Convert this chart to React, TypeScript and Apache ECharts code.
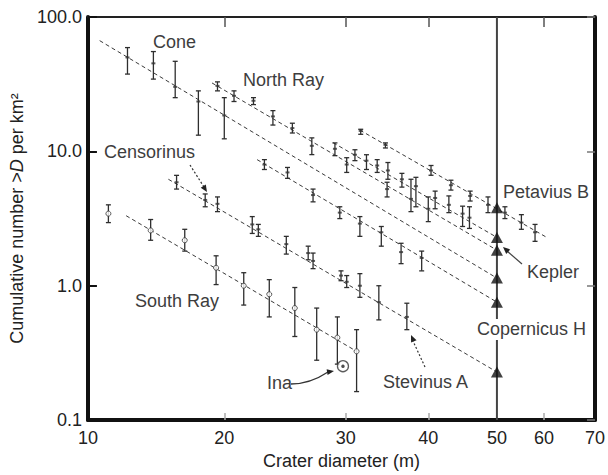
import React, { useEffect, useRef } from 'react';
import * as echarts from 'echarts';

// x axis of the original figure: tick labels and where each sits along the axis (0..1)
const xTickLabels = [10, 20, 30, 40, 50, 60, 70];
const xTickPositions = [0, 0.2689, 0.5087, 0.6712, 0.8066, 0.8994, 1];
const xInnerTickLabels = [20, 30, 40, 60];

// [diameter m, cumulative number, lower error, upper error]
const conePoints = [
  [12.9, 50.0, 37.6, 59.2],
  [14.8, 45.2, 34.5, 55.3],
  [16.4, 30.2, 25.1, 46.8],
  [18.1, 23.5, 13.2, 28.2],
  [20.0, 18.5, 12.4, 25.1],
];
const northRayPoints = [
  [19.5, 30.7, 28.2, 32.9],
  [20.8, 25.9, 23.5, 28.2],
  [22.4, 23.8, 22.3, 25.1],
  [24.0, 18.2, 15.7, 20.1],
  [25.6, 14.9, 13.7, 16.2],
  [27.2, 11.0, 9.46, 12.6],
  [30.1, 7.98, 6.97, 8.97],
  [35.0, 5.24, 4.58, 5.89],
  [37.9, 4.43, 3.56, 6.2],
  [40.0, 3.74, 3.0, 4.58],
];
const keplerPoints = [
  [29.1, 10.45, 9.29, 11.56],
  [31.1, 9.44, 8.53, 10.28],
  [32.5, 8.53, 7.33, 9.44],
  [33.8, 7.85, 6.97, 8.68],
  [35.1, 7.21, 6.2, 8.26],
  [36.8, 6.2, 5.42, 6.86],
  [38.5, 5.51, 3.87, 6.41],
  [41.0, 4.5, 3.74, 5.06],
  [43.0, 4.0, 3.5, 4.66],
  [45.0, 3.44, 2.76, 3.91],
  [46.0, 3.21, 2.67, 3.87],
];
const petaviusPoints = [
  [31.8, 14.2, 13.4, 14.6],
  [34.8, 11.2, 10.6, 11.56],
  [40.4, 7.21, 6.64, 7.85],
  [43.3, 5.6, 5.15, 6.1],
  [46.1, 4.66, 4.27, 5.06],
  [48.7, 4.0, 3.5, 4.58],
  [51.7, 3.5, 3.16, 3.87],
  [55.2, 2.95, 2.63, 3.38],
  [58.1, 2.5, 2.14, 2.86],
];
const copernicusPoints = [
  [23.3, 7.98, 7.33, 8.68],
  [25.2, 6.97, 6.3, 7.59],
  [27.3, 4.73, 4.21, 5.24],
  [29.5, 3.5, 3.16, 3.87],
  [31.7, 2.9, 2.33, 3.27],
  [34.3, 2.5, 1.97, 2.76],
  [36.7, 1.78, 1.46, 2.07],
  [39.2, 1.61, 1.29, 1.81],
];
const censorinusPoints = [
  [16.5, 5.89, 5.24, 6.63],
  [18.6, 4.35, 3.87, 4.82],
  [19.5, 4.07, 3.56, 4.58],
  [22.3, 2.86, 2.45, 3.27],
  [22.8, 2.63, 2.33, 2.86],
  [25.1, 2.04, 1.72, 2.33],
  [26.9, 1.75, 1.56, 1.97],
  [27.3, 1.53, 1.34, 1.75],
];
const stevinusPoints = [
  [29.6, 1.19, 1.09, 1.29],
  [30.1, 1.07, 0.97, 1.19],
  [31.7, 1.0, 0.82, 1.23],
  [34.0, 0.755, 0.557, 1.0],
  [37.4, 0.586, 0.471, 0.741],
];
const southRayPoints = [
  [11.5, 3.44, 2.95, 4.0],
  [14.6, 2.58, 2.18, 3.11],
  [17.1, 2.18, 1.81, 2.63],
  [19.4, 1.36, 1.02, 1.67],
  [21.6, 1.0, 0.718, 1.25],
  [23.7, 0.864, 0.586, 1.11],
  [25.8, 0.682, 0.419, 0.97],
  [27.6, 0.471, 0.279, 0.682],
  [29.3, 0.411, 0.261, 0.586],
  [31.3, 0.325, 0.163, 0.471],
];
const inaPoint = [29.76, 0.252];

// fitted power-law lines: [diameter, value] end points
const coneFit = [[10.86, 66.7], [50, 1.14]];
const northRayFit = [[19.1, 32.3], [50, 1.84]];
const keplerFit = [[28.95, 11.6], [50, 2.29]];
const petaviusFit = [[31.7, 14.4], [60.8, 2.26]];
const copernicusFit = [[22.7, 8.68], [50, 0.755]];
const censorinusFit = [[15.9, 6.2], [50, 0.228]];
const southRayFit = [[12.8, 3.32], [31.3, 0.325]];

// extrapolated values at D = 50 m
const refDiameter = 50;
const triangleValues = [3.8, 2.29, 1.84, 1.14, 0.755, 0.228];

const FONT = '"Liberation Sans", Arial, Helvetica, sans-serif';

function toAxis(d: number): number {
  const n = xTickLabels.length;
  for (let i = 0; i < n - 1; i++) {
    const a = xTickLabels[i], b = xTickLabels[i + 1];
    if (d <= b || i === n - 2) {
      const t = (d - a) / (b - a);
      return xTickPositions[i] + t * (xTickPositions[i + 1] - xTickPositions[i]);
    }
  }
  return 1;
}

function fitSeries(fit: number[][]) {
  return {
    type: 'line',
    data: fit.map((p) => [toAxis(p[0]), p[1]]),
    symbol: 'none',
    lineStyle: { color: '#3a3a3a', width: 1, type: [4, 3] },
    z: 2,
    silent: true,
  };
}

function errSeries(pts: number[][]) {
  return {
    type: 'custom',
    data: pts.map((p) => [toAxis(p[0]), p[2], p[3]]),
    encode: { x: 0, y: [1, 2] },
    z: 3,
    silent: true,
    renderItem: (params: any, api: any) => {
      const x = api.value(0);
      const lo = api.value(1);
      const hi = api.value(2);
      const a = api.coord([x, hi]);
      const b = api.coord([x, lo]);
      const w = 2.5;
      const style = { stroke: '#2e2e2e', lineWidth: 1.3 };
      return {
        type: 'group',
        children: [
          { type: 'line', shape: { x1: a[0], y1: a[1], x2: b[0], y2: b[1] }, style },
          { type: 'line', shape: { x1: a[0] - w, y1: a[1], x2: a[0] + w, y2: a[1] }, style },
          { type: 'line', shape: { x1: b[0] - w, y1: b[1], x2: b[0] + w, y2: b[1] }, style },
        ],
      };
    },
  };
}

function pointSeries(pts: number[][], symbol: string, size: any, filled: boolean) {
  return {
    type: 'scatter',
    data: pts.map((p) => [toAxis(p[0]), p[1]]),
    symbol,
    symbolSize: size,
    itemStyle: filled
      ? { color: '#333' }
      : { color: '#fff', borderColor: '#333', borderWidth: 1 },
    z: 4,
    silent: true,
  };
}

function labelText(text: string, x: number, y: number) {
  return {
    type: 'text',
    x,
    y,
    silent: true,
    z: 20,
    style: { text, font: `18px ${FONT}`, fill: '#3d3d3d', verticalAlign: 'middle' },
  };
}

function arrowHead(tip: number[], from: number[], len = 7, half = 3) {
  const dx = tip[0] - from[0];
  const dy = tip[1] - from[1];
  const L = Math.sqrt(dx * dx + dy * dy);
  const ux = dx / L, uy = dy / L;
  const bx = tip[0] - ux * len, by = tip[1] - uy * len;
  const px = -uy * half, py = ux * half;
  return {
    type: 'polygon',
    silent: true,
    z: 20,
    shape: { points: [tip, [bx + px, by + py], [bx - px, by - py]] },
    style: { fill: '#222' },
  };
}

export default function App() {
  const ref = useRef<HTMLDivElement>(null);
  useEffect(() => {
    if (!ref.current) return;
    const chart = echarts.init(ref.current, undefined, { renderer: 'svg' });
    const innerTicks = xInnerTickLabels.map((v) => toAxis(v));
    const option: any = {
      animation: false,
      backgroundColor: '#fff',
      grid: { left: 78, right: 13, top: 17, bottom: 48 },
      xAxis: [
        {
          type: 'value',
          min: 0,
          max: 1,
          position: 'bottom',
          name: 'Crater diameter (m)',
          nameLocation: 'middle',
          nameGap: 29,
          nameTextStyle: { fontSize: 18, fontFamily: FONT, color: '#222' },
          axisLine: { show: true, onZero: false, lineStyle: { color: '#111', width: 4 } },
          axisTick: {
            show: true,
            inside: true,
            length: 7,
            customValues: innerTicks,
            lineStyle: { color: '#aaa', width: 1.5 },
          },
          axisLabel: {
            customValues: xTickPositions,
            formatter: (v: number) => {
              const i = xTickPositions.findIndex((p) => Math.abs(p - v) < 1e-6);
              return i >= 0 ? String(xTickLabels[i]) : '';
            },
            fontSize: 18,
            fontFamily: FONT,
            color: '#222',
            margin: 9,
          },
          splitLine: { show: false },
        },
        {
          type: 'value',
          min: 0,
          max: 1,
          position: 'top',
          axisLine: { show: true, onZero: false, lineStyle: { color: '#222', width: 2 } },
          axisTick: {
            show: true,
            inside: true,
            length: 10,
            customValues: innerTicks,
            lineStyle: { color: '#555', width: 1.5 },
          },
          axisLabel: { show: false },
          splitLine: { show: false },
        },
      ],
      yAxis: [
        {
          type: 'log',
          logBase: 10,
          min: 0.1,
          max: 100,
          position: 'left',
          name: 'Cumulative number >{i|D} per km²',
          nameLocation: 'middle',
          nameGap: 47,
          nameTextStyle: {
            fontSize: 18,
            fontFamily: FONT,
            color: '#222',
            rich: { i: { fontStyle: 'italic', fontSize: 18, fontFamily: FONT, color: '#222' } },
          },
          axisLine: { show: true, onZero: false, lineStyle: { color: '#111', width: 4 } },
          axisTick: { show: true, inside: true, length: 9, lineStyle: { color: '#111', width: 2 } },
          axisLabel: {
            formatter: (v: number) => Number(v).toFixed(1),
            fontSize: 18,
            fontFamily: FONT,
            color: '#222',
            margin: 6,
          },
          splitLine: { show: false },
          minorTick: { show: false },
        },
        {
          type: 'log',
          logBase: 10,
          min: 0.1,
          max: 100,
          position: 'right',
          axisLine: { show: true, onZero: false, lineStyle: { color: '#111', width: 4 } },
          axisTick: { show: true, inside: true, length: 8, lineStyle: { color: '#777', width: 1.5 } },
          axisLabel: { show: false },
          splitLine: { show: false },
        },
      ],
      series: [
        {
          type: 'line',
          data: [
            [toAxis(refDiameter), 0.1],
            [toAxis(refDiameter), 100],
          ],
          symbol: 'none',
          lineStyle: { color: '#444', width: 2 },
          z: 1,
          silent: true,
        },
        fitSeries(coneFit),
        fitSeries(northRayFit),
        fitSeries(keplerFit),
        fitSeries(petaviusFit),
        fitSeries(copernicusFit),
        fitSeries(censorinusFit),
        fitSeries(southRayFit),
        errSeries(conePoints),
        errSeries(northRayPoints),
        errSeries(keplerPoints),
        errSeries(petaviusPoints),
        errSeries(copernicusPoints),
        errSeries(censorinusPoints),
        errSeries(stevinusPoints),
        errSeries(southRayPoints),
        pointSeries(conePoints, 'rect', [4, 2], true),
        pointSeries(northRayPoints, 'rect', [4, 2], true),
        pointSeries(keplerPoints, 'rect', [4, 2], true),
        pointSeries(petaviusPoints, 'rect', [4, 2], true),
        pointSeries(copernicusPoints, 'rect', [4, 2], true),
        pointSeries(censorinusPoints, 'rect', [4, 2], true),
        pointSeries(stevinusPoints, 'rect', [4, 2], true),
        pointSeries(southRayPoints, 'circle', 5, false),
        {
          type: 'scatter',
          data: [[toAxis(inaPoint[0]), inaPoint[1]]],
          symbol: 'circle',
          symbolSize: 11,
          itemStyle: { color: '#fff', borderColor: '#333', borderWidth: 1.3 },
          z: 5,
          silent: true,
        },
        {
          type: 'scatter',
          data: [[toAxis(inaPoint[0]), inaPoint[1]]],
          symbol: 'circle',
          symbolSize: 3.5,
          itemStyle: { color: '#222' },
          z: 6,
          silent: true,
        },
        {
          type: 'scatter',
          data: triangleValues.map((v) => [toAxis(refDiameter), v]),
          symbol: 'triangle',
          symbolSize: [12, 11],
          itemStyle: { color: '#111' },
          z: 7,
          silent: true,
        },
      ],
      graphic: [
        { type: 'rect', silent: true, z: 19, shape: { x: 476, y: 319, width: 111, height: 21 }, style: { fill: '#fff' } },
        labelText('Cone', 153, 42),
        labelText('North Ray', 243, 80),
        labelText('Censorinus', 104, 152),
        labelText('Petavius B', 503, 192),
        labelText('Kepler', 527, 272),
        labelText('Copernicus H', 477, 329),
        labelText('Stevinus A', 383, 382),
        labelText('South Ray', 135, 301),
        labelText('Ina', 267, 383),
        { type: 'line', silent: true, z: 20, shape: { x1: 190, y1: 165, x2: 204, y2: 187 }, style: { stroke: '#333', lineWidth: 1.2, lineDash: [2, 2] } },
        arrowHead([207, 192], [190, 165]),
        { type: 'line', silent: true, z: 20, shape: { x1: 522, y1: 264, x2: 507, y2: 251 }, style: { stroke: '#444', lineWidth: 1.2 } },
        arrowHead([503, 247], [522, 264]),
        { type: 'line', silent: true, z: 20, shape: { x1: 425, y1: 367, x2: 413, y2: 341 }, style: { stroke: '#333', lineWidth: 1.2, lineDash: [2, 2] } },
        arrowHead([411, 335], [425, 367]),
        { type: 'bezierCurve', silent: true, z: 20, shape: { x1: 291, y1: 384, x2: 328, y2: 372, cpx1: 310, cpy1: 384 }, style: { stroke: '#333', lineWidth: 1.3, fill: 'none' } },
        arrowHead([334, 371], [322, 373]),
      ],
    };
    chart.setOption(option);
    return () => chart.dispose();
  }, []);
  return (
    <div
      ref={ref}
      style={{ position: 'fixed', left: 0, top: 0, width: 608, height: 475, background: '#fff' }}
    />
  );
}
